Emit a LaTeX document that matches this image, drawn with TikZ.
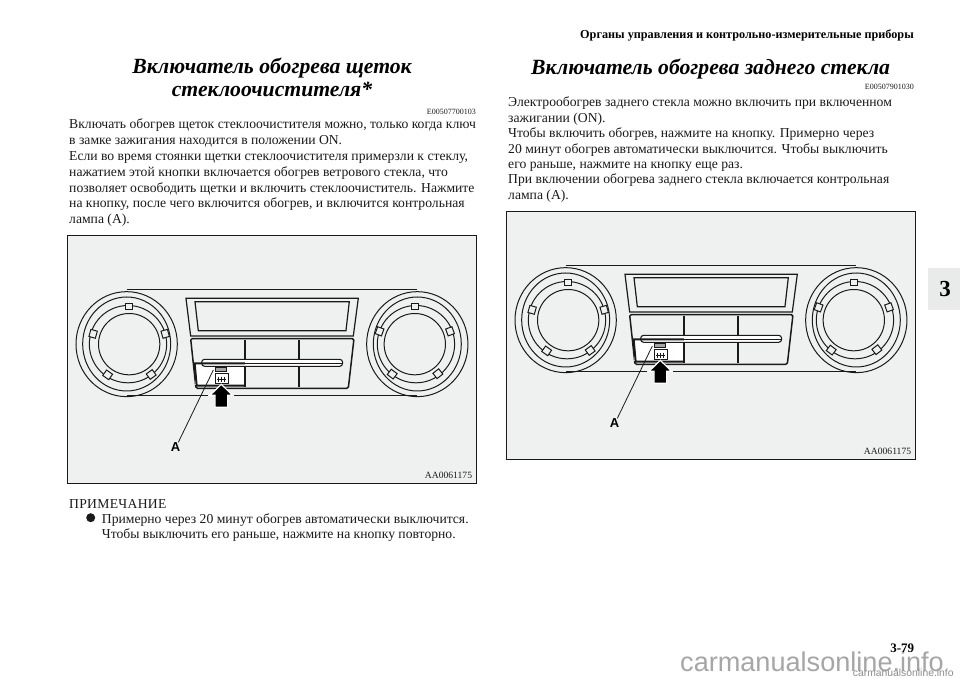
\documentclass[tikz,border=0pt]{standalone}
\usepackage{fontspec}
\setmainfont{Liberation Serif}
\setsansfont{Liberation Sans}
\definecolor{panelbg}{HTML}{EFF1F1}
\definecolor{tabbg}{HTML}{E9EBEB}
\definecolor{ink}{HTML}{1A1A1A}
\tikzset{
  body/.style={anchor=north west,inner sep=0pt,align=left,font=\fontsize{13.65}{15.8}\selectfont,text=ink},
  headt/.style={anchor=base,inner sep=0pt,align=center,font=\fontsize{21.7}{24}\selectfont\bfseries\itshape},
  code/.style={anchor=base east,inner sep=0pt,font=\fontsize{8}{10}\selectfont,text=ink},
  thin line/.style={line width=1pt,draw=ink},
  thick line/.style={line width=2pt,draw=ink},
}
\newcommand{\knob}[3]{% x, eccentric sign, tab angles
  \draw[thin line] (#1,342.5) ellipse[x radius=152,y radius=157.5];
  \draw[thin line] (#1,342) ellipse[x radius=132,y radius=141];
  \draw[thin line] (#1+#2*4,342.5) circle[radius=116];
  \draw[thin line] (#1+#2*7.5,342.5) circle[radius=92];
  \foreach \a in {#3}{
    \draw[thin line,fill=panelbg,rotate around={\a-90:(#1+#2*7.5,342.5)}] (#1+#2*7.5-11,220) rectangle (#1+#2*7.5+11,240);
  }
}
\newcommand{\dashpanel}[3]{% x shift, y shift, name
  \begin{scope}[shift={(#1pt,#2pt)},x=0.3333pt,y=-0.3333pt]
    \node[draw=ink,line width=1pt,fill=panelbg,minimum width=1228*0.3333pt,minimum height=743*0.3333pt,inner sep=0pt] (#3) at (636,388.5) {};
    \draw[thin line] (200,180) -- (1072,180);
    \draw[thin line] (200,497) -- (445,497) (522,497) -- (1072,497);
    \knob{200}{1}{90,164,235,306,16}
    \knob{1072}{-1}{90,160,233,308,20}
    % display
    \draw[line width=1.2pt,draw=ink] (378,205) -- (895,205) -- (880,318) -- (392,318) -- cycle;
    \draw[line width=1.2pt,draw=ink] (405,215) -- (868,215) -- (858,302) -- (415,302) -- cycle;
    % button block
    \draw[line width=1.5pt,draw=ink,rounded corners=1.5pt] (392,326) -- (882,326) -- (865,475) -- (408,475) -- cycle;
    \fill[white] (405,402) rectangle (555,466);
    \draw[thick line] (555,330) -- (555,470);
    \draw[line width=1.7pt,draw=ink] (717,330) -- (717,470);
    \draw[line width=1.1pt,draw=ink,rounded corners=3pt,fill=white] (425,388) rectangle (848,409);
    \draw[line width=1.4pt,draw=ink] (555,400) -- (848,400);
    \draw[thick line] (402,400) -- (555,400) (408,467) -- (555,467) (404,400) -- (410,467);
    \draw[line width=0.6pt,draw=ink,fill=black!35] (465,413) rectangle (500,424);
    \draw[line width=0.8pt,draw=ink] (466,431) rectangle (504,459);
    \draw[line width=0.7pt,draw=ink] (476,440) -- (476,456) (485,440) -- (485,456) (494,440) -- (494,456) (472,447) -- (498,447);
    % arrow
    \draw[draw=white,line width=1.2pt,fill=black] (484,463) -- (518,496) -- (503,496) -- (503,532) -- (465,532) -- (465,496) -- (450,496) -- cycle;
    % leader
    \node[anchor=center,inner sep=0pt,font=\sffamily\bfseries\fontsize{13}{13}\selectfont] (#3A) at (347,651) {A};
    \coordinate (#3L) at (460,420);
    \draw[line width=0.8pt,draw=ink] (#3A.north) ++(8,0) -- (#3L);
    \node[code,font=\fontsize{9.6}{10}\selectfont] (#3C) at (1237,745) {AA0061175};
  \end{scope}
}
\begin{document}
\begin{tikzpicture}[x=1pt,y=-1pt]
\useasboundingbox (0,0) rectangle (960,679);
\fill[white] (0,0) rectangle (960,679);
\node[anchor=base east,inner sep=0pt,font=\fontsize{12.2}{14}\selectfont\bfseries] (hdr) at (914,39) {Органы управления и контрольно-измерительные приборы};
\node[headt] (t1) at (272,74) {Включатель обогрева щеток};
\node[headt] (t1b) at (272,97) {стеклоочистителя*};
\node[code] (c1) at (476,115) {E00507700103};
\node[body] (p1) at (69,119) {Включать обогрев щеток стеклоочистителя можно, только когда ключ\\
в замке зажигания находится в положении ON.\\
Если во время стоянки щетки стеклоочистителя примерзли к стеклу,\\
нажатием этой кнопки включается обогрев ветрового стекла, что\\
позволяет освободить щетки и включить стеклоочиститель. Нажмите\\
на кнопку, после чего включится обогрев, и включится контрольная\\
лампа (А).};
\dashpanel{60}{-230}{pa}
\node[body] (n0) at (69,499.5) {\addfontfeature{LetterSpace=2.2}ПРИМЕЧАНИЕ};
\fill[ink] (90.7,517.7) circle[radius=4.5];
\node[body,font=\fontsize{13.65}{14.2}\selectfont] (n1) at (101.7,514) {Примерно через 20 минут обогрев автоматически выключится.\\
Чтобы выключить его раньше, нажмите на кнопку повторно.};
\node[headt,anchor=base west] (t2) at (531,75) {Включатель обогрева заднего стекла};
\node[code] (c2) at (914,90) {E00507901030};
\node[body,font=\fontsize{13.65}{15.4}\selectfont] (p2) at (508,97) {Электрообогрев заднего стекла можно включить при включенном\\
зажигании (ON).\\
Чтобы включить обогрев, нажмите на кнопку. Примерно через\\
20 минут обогрев автоматически выключится. Чтобы выключить\\
его раньше, нажмите на кнопку еще раз.\\
При включении обогрева заднего стекла включается контрольная\\
лампа (А).};
\dashpanel{499}{-206}{pb}
\fill[tabbg] (928,268) rectangle (960,310);
\node[anchor=center,inner sep=0pt,font=\fontsize{23}{23}\selectfont\bfseries] (tab) at (945,289) {3};
\node[anchor=base west,inner sep=0pt,text=black!35,font=\sffamily\fontsize{27.1}{28}\selectfont] (wm) at (680,671) {carmanualsonline.info};
\node[anchor=base west,inner sep=0pt,text=black!45,font=\sffamily\fontsize{10.35}{11}\selectfont] (wms) at (852.7,676) {carmanualsonline.info};
\node[anchor=base east,inner sep=0pt,font=\fontsize{13}{15}\selectfont\bfseries] (pg) at (914.3,652) {3-79};
\end{tikzpicture}
\end{document}
